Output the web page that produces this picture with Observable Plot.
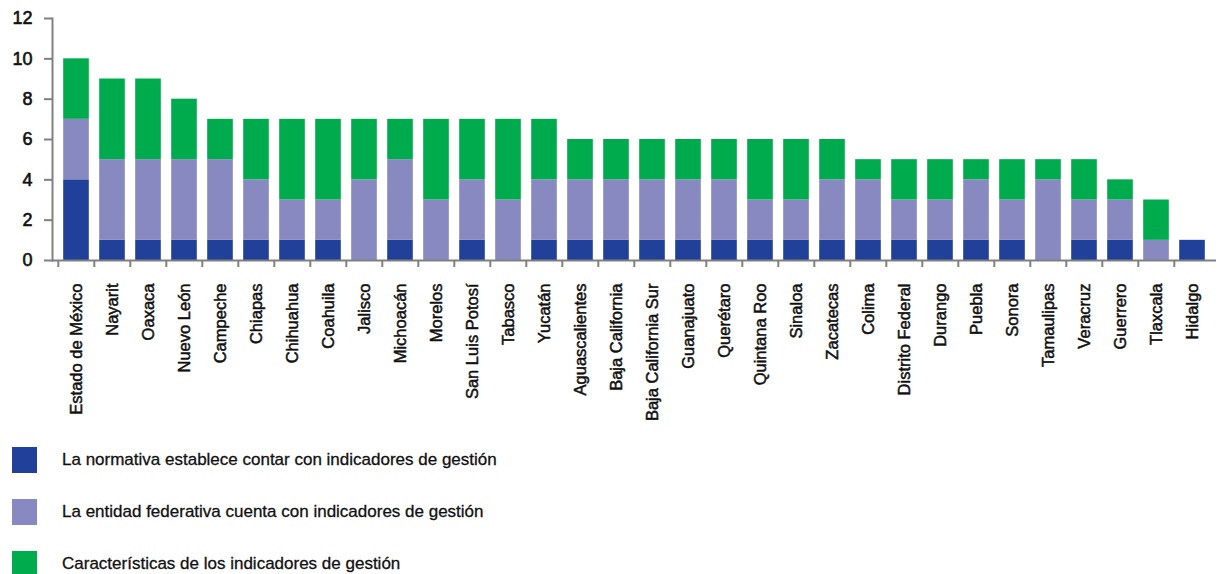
<!DOCTYPE html>
<html><head><meta charset="utf-8">
<script src="https://cdn.jsdelivr.net/npm/d3@7"></script>
<script src="https://cdn.jsdelivr.net/npm/@observablehq/plot@0.6"></script>
<style>
body{margin:0;background:#fff;font-family:"Liberation Sans",Arial,sans-serif;}
#wrap{position:relative;width:1218px;height:574px;overflow:hidden;}
.sw{position:absolute;left:12px;width:25px;height:26px;}
.lt{position:absolute;left:62px;font-size:17px;color:#111;white-space:nowrap;line-height:20px;-webkit-text-stroke:0.3px #111;}
</style></head><body><div id="wrap"><div id="chart"></div></div>
<script>
const estados = ["Estado de México","Nayarit","Oaxaca","Nuevo León","Campeche","Chiapas","Chihuahua","Coahuila","Jalisco","Michoacán","Morelos","San Luis Potosí","Tabasco","Yucatán","Aguascalientes","Baja California","Baja California Sur","Guanajuato","Querétaro","Quintana Roo","Sinaloa","Zacatecas","Colima","Distrito Federal","Durango","Puebla","Sonora","Tamaulipas","Veracruz","Guerrero","Tlaxcala","Hidalgo"];
const normativa =       [4,1,1,1,1,1,1,1,0,1,0,1,0,1,1,1,1,1,1,1,1,1,1,1,1,1,1,0,1,1,0,1];
const entidad =         [3,4,4,4,4,3,2,2,4,4,3,3,3,3,3,3,3,3,3,2,2,3,3,2,2,3,2,4,2,2,1,0];
const caracteristicas = [3,4,4,3,2,3,4,4,3,2,4,3,4,3,2,2,2,2,2,3,3,2,1,2,2,1,2,1,2,1,2,0];
const series = ["La normativa establece contar con indicadores de gestión","La entidad federativa cuenta con indicadores de gestión","Características de los indicadores de gestión"];
const colors = ["#21409a","#8789c0","#00ab4e"];
const yTicks = [0,2,4,6,8,10,12];

const valuesBySeries = [normativa, entidad, caracteristicas];
const rows = [];
valuesBySeries.forEach((vals, s) => vals.forEach((v, i) => rows.push({estado: estados[i], serie: series[s], value: v})));

const W = 1218, ML = 52, MR = 2;
const step = (W - ML - MR) / estados.length;
const font = "'Liberation Sans', Arial, sans-serif";

const chart = Plot.plot({
  width: W, height: 430,
  marginLeft: ML, marginRight: MR, marginTop: 18, marginBottom: 170,
  x: {domain: estados, padding: 0, axis: null},
  y: {domain: [0, 12], axis: null},
  color: {domain: series, range: colors},
  style: {fontFamily: font, fontSize: "16.5px", color: "#111", background: "#fff"},
  marks: [
    Plot.barY(rows, {x: "estado", y: "value", fill: "serie", insetLeft: 5.2, insetRight: 5.2}),
    Plot.axisY({ticks: yTicks, tickSize: 8, tickFormat: () => "", stroke: "#808080", strokeWidth: 2, label: null}),
    Plot.text(yTicks, {y: d => d, text: d => String(d), frameAnchor: "left", dx: -20, textAnchor: "end", fontSize: 18, fill: "#111", stroke: "#111", strokeWidth: 0.6}),
    Plot.frame({anchor: "left", stroke: "#808080", strokeWidth: 2}),
    Plot.ruleY([0], {stroke: "#808080", strokeWidth: 2}),
    Plot.axisX({tickSize: 7, tickFormat: () => "", dx: -step / 2, stroke: "#808080", strokeWidth: 2, label: null}),
    Plot.text(estados, {x: d => d, frameAnchor: "bottom", rotate: -90, textAnchor: "end", lineAnchor: "middle", dy: 23, fontSize: 16.5, fill: "#111", stroke: "#111", strokeWidth: 0.5})
  ]
});
const wrap = document.getElementById("wrap");
document.getElementById("chart").appendChild(chart);

const swTops = [447, 499, 551];
series.forEach((s, i) => {
  const sw = document.createElement("div");
  sw.className = "sw"; sw.style.top = swTops[i] + "px"; sw.style.background = colors[i];
  wrap.appendChild(sw);
  const t = document.createElement("div");
  t.className = "lt"; t.style.top = (swTops[i] + 3) + "px"; t.textContent = s;
  wrap.appendChild(t);
});
</script></body></html>
